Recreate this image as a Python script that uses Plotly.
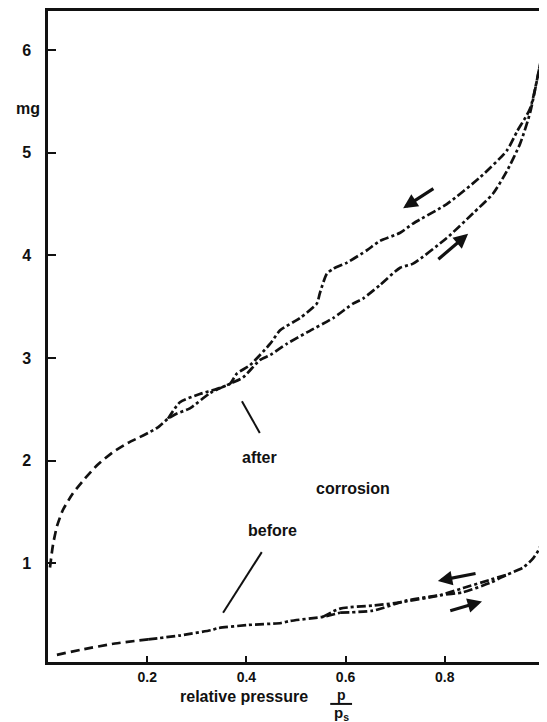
import plotly.graph_objects as go

# ---- data ----
# "after corrosion" isotherm: common low-pressure part
after_common_x = [0.004, 0.010, 0.018, 0.030, 0.050, 0.075, 0.100, 0.130, 0.160, 0.185]
after_common_y = [0.96, 1.18, 1.36, 1.52, 1.68, 1.83, 1.96, 2.08, 2.17, 2.23]
# adsorption branch (lower)
after_ads_x = [0.185, 0.220, 0.242, 0.260, 0.286, 0.327, 0.367, 0.393, 0.427, 0.448,
               0.482, 0.522, 0.575, 0.615, 0.635, 0.669, 0.710, 0.736, 0.804, 0.857,
               0.897, 0.925, 0.952, 0.972, 0.996]
after_ads_y = [2.23, 2.32, 2.41, 2.46, 2.51, 2.66, 2.75, 2.81, 2.98, 3.03,
               3.14, 3.25, 3.39, 3.53, 3.58, 3.71, 3.88, 3.92, 4.17, 4.41,
               4.60, 4.82, 5.09, 5.39, 5.96]
# desorption branch (upper)
after_des_x = [0.242, 0.266, 0.306, 0.341, 0.367, 0.381, 0.407, 0.448, 0.468, 0.508,
               0.542, 0.548, 0.562, 0.575, 0.603, 0.643, 0.669, 0.710, 0.736, 0.804,
               0.871, 0.925, 0.946, 0.972, 0.996]
after_des_y = [2.41, 2.57, 2.65, 2.70, 2.75, 2.85, 2.93, 3.14, 3.27, 3.39,
               3.53, 3.63, 3.82, 3.87, 3.93, 4.05, 4.14, 4.22, 4.31, 4.50,
               4.76, 5.02, 5.21, 5.43, 5.96]

# "before corrosion" isotherm
before_common_x = [0.018, 0.067, 0.135, 0.202]
before_common_y = [0.11, 0.16, 0.22, 0.26]
before_mid_x = [0.202, 0.268, 0.329, 0.343, 0.403, 0.470, 0.488, 0.554, 0.589]
before_mid_y = [0.26, 0.30, 0.35, 0.37, 0.40, 0.42, 0.44, 0.48, 0.52]
before_ads_x = [0.589, 0.655, 0.724, 0.790, 0.837, 0.891, 0.925, 0.958, 0.978, 0.992, 0.998]
before_ads_y = [0.52, 0.54, 0.64, 0.69, 0.72, 0.81, 0.89, 0.96, 1.05, 1.16, 1.42]
before_des_x = [0.554, 0.589, 0.655, 0.710, 0.790, 0.837, 0.891, 0.925]
before_des_y = [0.48, 0.56, 0.59, 0.62, 0.69, 0.76, 0.84, 0.89]

x_tick_vals = [0.2, 0.4, 0.6, 0.8, 1.0]
x_tick_text = ["0.2", "0.4", "0.6", "0.8", "1"]
y_tick_vals = [1, 2, 3, 4, 5, 6]
y_tick_text = ["1", "2", "3", "4", "5", "6"]

# direction arrows: (tail x, tail y, head x, head y)
arrows = [
    (0.780, 4.66, 0.716, 4.46),
    (0.784, 3.95, 0.847, 4.21),
    (0.865, 0.905, 0.786, 0.83),
    (0.808, 0.535, 0.875, 0.63),
]
# leader lines for labels: (x0, y0, x1, y1)
leaders = [
    (0.391, 2.58, 0.427, 2.27),
    (0.431, 1.11, 0.353, 0.52),
]
labels = [("after", 0.427, 2.03), ("corrosion", 0.615, 1.73), ("before", 0.452, 1.32)]

BLACK = "#111111"
DASH = "9px,5px"
DASHDOT = "9px,3px,3px,3px"
LW = 2.7

fig = go.Figure()

def add_line(xs, ys, dash):
    fig.add_trace(go.Scatter(x=xs, y=ys, mode="lines",
                             line=dict(color=BLACK, width=LW, dash=dash, shape="spline", smoothing=0.6),
                             showlegend=False, hoverinfo="skip"))

add_line(after_common_x, after_common_y, DASH)
add_line(after_ads_x, after_ads_y, DASHDOT)
add_line(after_des_x, after_des_y, DASHDOT)
add_line(before_common_x, before_common_y, DASH)
add_line(before_mid_x, before_mid_y, DASHDOT)
add_line(before_ads_x, before_ads_y, DASHDOT)
add_line(before_des_x, before_des_y, DASHDOT)

FONT = "Liberation Sans"

annotations = []
for (tx, ty, hx, hy) in arrows:
    annotations.append(dict(x=hx, y=hy, ax=tx, ay=ty, xref="x", yref="y", axref="x", ayref="y",
                            showarrow=True, arrowhead=2, arrowsize=0.9, arrowwidth=3.2,
                            arrowcolor=BLACK, text=""))
for (t, x, y) in labels:
    annotations.append(dict(x=x, y=y, xref="x", yref="y", text="<b>" + t + "</b>", showarrow=False,
                            xanchor="center", yanchor="middle",
                            font=dict(family=FONT, size=16, color=BLACK)))
# axis labels (paper coordinates)
axis_texts = [
    ("<b>mg</b>", -0.040, 0.850, 16),
    ("<b>relative pressure</b>", 0.395, -0.0537, 16),
    ("<b>p</b>", 0.591, -0.0506, 14),
    ("<b>p<sub>s</sub></b>", 0.591, -0.0798, 15),
]
for (t, x, y, s) in axis_texts:
    annotations.append(dict(x=x, y=y, xref="paper", yref="paper", text=t, showarrow=False,
                            xanchor="center", yanchor="middle",
                            font=dict(family=FONT, size=s, color=BLACK)))

shapes = []
for (x0, y0, x1, y1) in leaders:
    shapes.append(dict(type="line", x0=x0, y0=y0, x1=x1, y1=y1, xref="x", yref="y",
                       line=dict(color=BLACK, width=2)))
# fraction bar
shapes.append(dict(type="line", x0=0.569, x1=0.613, y0=-0.0644, y1=-0.0644, xref="paper", yref="paper",
                   line=dict(color=BLACK, width=2)))

# the page body has an 8px margin: figure is placed at (8, 8)
fig.update_layout(
    width=539, height=714,
    margin=dict(l=40, r=0, t=2, b=60, pad=0),
    paper_bgcolor="white", plot_bgcolor="white",
    showlegend=False,
    annotations=annotations,
    shapes=shapes,
    font=dict(family=FONT, color=BLACK),
)
fig.update_xaxes(range=[0, 1.0], showgrid=False, zeroline=False,
                 showline=True, linecolor=BLACK, linewidth=2.5, mirror=True,
                 ticks="inside", ticklen=6, tickwidth=2, tickcolor=BLACK,
                 tickvals=x_tick_vals, ticktext=["<b>" + t + "</b>" for t in x_tick_text],
                 tickfont=dict(family=FONT, size=14, color=BLACK), ticklabelstandoff=0)
fig.update_yaxes(range=[0.04, 6.38], showgrid=False, zeroline=False,
                 showline=True, linecolor=BLACK, linewidth=2.5, mirror=True,
                 ticks="inside", ticklen=8, tickwidth=2, tickcolor=BLACK,
                 tickvals=y_tick_vals, ticktext=["<b>" + t + "</b>" for t in y_tick_text],
                 tickfont=dict(family=FONT, size=16, color=BLACK), ticklabelstandoff=11)

fig.write_html("out.html")
